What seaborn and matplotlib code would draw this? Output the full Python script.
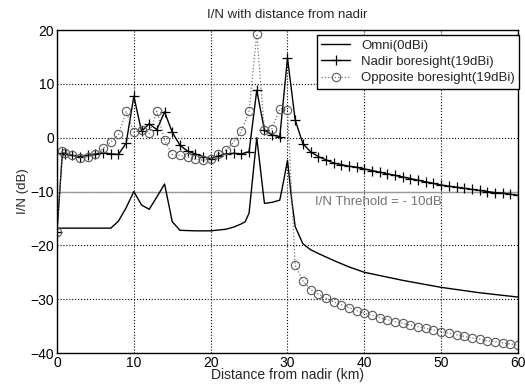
import matplotlib
matplotlib.use("Agg")
import matplotlib.pyplot as plt
import seaborn as sns

# distance from nadir (km) for the marker series
dist = [0, 0.7] + list(range(1, 61))

nadir = [-17.5, -2.8,
         -3.0, -3.3, -3.5, -3.3, -3.0, -2.8, -3.0, -3.1, -1.0, 7.7,
         1.2, 2.6, 1.5, 4.8, 1.0, -1.4, -2.5, -3.0, -3.5, -3.9,
         -3.4, -3.0, -2.9, -3.0, -2.6, 8.8, 1.4, 0.5, 0.2, 14.8,
         3.3, -1.1, -2.6, -3.5, -4.1, -4.7, -5.0, -5.3, -5.5, -5.8,
         -6.1, -6.4, -6.7, -7.0, -7.3, -7.6, -7.9, -8.2, -8.5, -8.8,
         -9.0, -9.2, -9.4, -9.6, -9.8, -10.0, -10.2, -10.3, -10.5, -10.7]

opposite = [-17.5, -2.5,
            -2.8, -3.2, -3.7, -3.5, -3.0, -2.0, -0.8, 0.6, 4.9, 1.0,
            1.5, 0.8, 4.9, -0.5, -3.1, -3.3, -3.6, -4.0, -4.2, -4.0,
            -3.0, -2.3, -0.8, 1.2, 4.9, 19.3, 1.4, 1.7, 5.4, 5.1,
            -23.7, -26.6, -28.2, -29.0, -29.8, -30.5, -31.0, -31.6, -32.1, -32.6,
            -33.0, -33.4, -33.8, -34.2, -34.5, -34.8, -35.1, -35.4, -35.7, -36.0,
            -36.3, -36.6, -36.9, -37.2, -37.4, -37.7, -37.9, -38.1, -38.3, -38.5]

# omni antenna (plain line)
omni_dist = [0, 7, 8, 9, 10, 11, 12, 13, 14, 15, 16, 18, 20, 22, 23, 24, 24.5,
             25, 26, 27, 28, 29, 29.5, 30, 30.5, 31, 32, 33, 34, 36, 38, 40,
             45, 50, 55, 60]
omni = [-16.8, -16.8, -15.5, -13.0, -10.0, -12.5, -13.3, -11.0, -8.6, -15.6,
        -17.2, -17.3, -17.3, -17.0, -16.6, -16.0, -15.6,
        -14.0, 0.0, -12.2, -12.0, -11.6, -8.0, -4.2, -11.0, -16.5, -19.7,
        -20.8, -21.5, -22.8, -24.0, -25.0, -26.5, -27.8, -28.8, -29.6]

threshold = -10

sns.set_style("white")
plt.rcParams['font.family'] = ['Liberation Sans', 'DejaVu Sans']

fig = plt.figure(figsize=(5.25, 3.85), dpi=100)
ax = fig.add_axes([0.1086, 0.083, 0.878, 0.839])

ax.axhline(threshold, color='0.6', lw=1.0, zorder=1)

sns.lineplot(x=omni_dist, y=omni, ax=ax, color='black', lw=1.0,
             sort=False, estimator=None, label='Omni(0dBi)')
sns.lineplot(x=dist, y=nadir, ax=ax, color='black', lw=1.0, marker='+',
             markersize=7, markeredgewidth=0.9, markeredgecolor='black',
             sort=False, estimator=None, label='Nadir boresight(19dBi)')
sns.lineplot(x=dist, y=opposite, ax=ax, color='0.45', lw=0.9, ls=':',
             marker='o', markersize=6, markerfacecolor='none',
             markeredgecolor='0.35', markeredgewidth=0.8, sort=False,
             estimator=None, label='Opposite boresight(19dBi)')

ax.text(33.6, -12, "I/N Threhold = - 10dB", color='0.45', fontsize=9.5,
        ha='left', va='center')

ax.set_xlim(0, 60)
ax.set_ylim(-40, 20)
ax.set_xticks(range(0, 61, 10))
ax.set_yticks(range(-40, 21, 10))
ax.grid(True, color='black', ls=':', lw=0.8)
for s in ax.spines.values():
    s.set_color('black')
    s.set_linewidth(1.0)
ax.tick_params(labelsize=10, direction='in', length=3, colors='black', pad=2)

ax.set_title("I/N with distance from nadir", fontsize=9.5, pad=9)
ax.set_xlabel("Distance from nadir (km)", fontsize=10, labelpad=-1)
ax.set_ylabel("I/N (dB)", fontsize=9.5, labelpad=1)

leg = ax.legend(loc='upper right', bbox_to_anchor=(1.003, 0.985), fontsize=9.5,
                frameon=True, fancybox=False, framealpha=1, edgecolor='black',
                borderaxespad=0, borderpad=0.35, labelspacing=0.3,
                handlelength=2.2, handletextpad=0.8)
leg.get_frame().set_linewidth(1.0)

fig.savefig("out.png", dpi=100)
